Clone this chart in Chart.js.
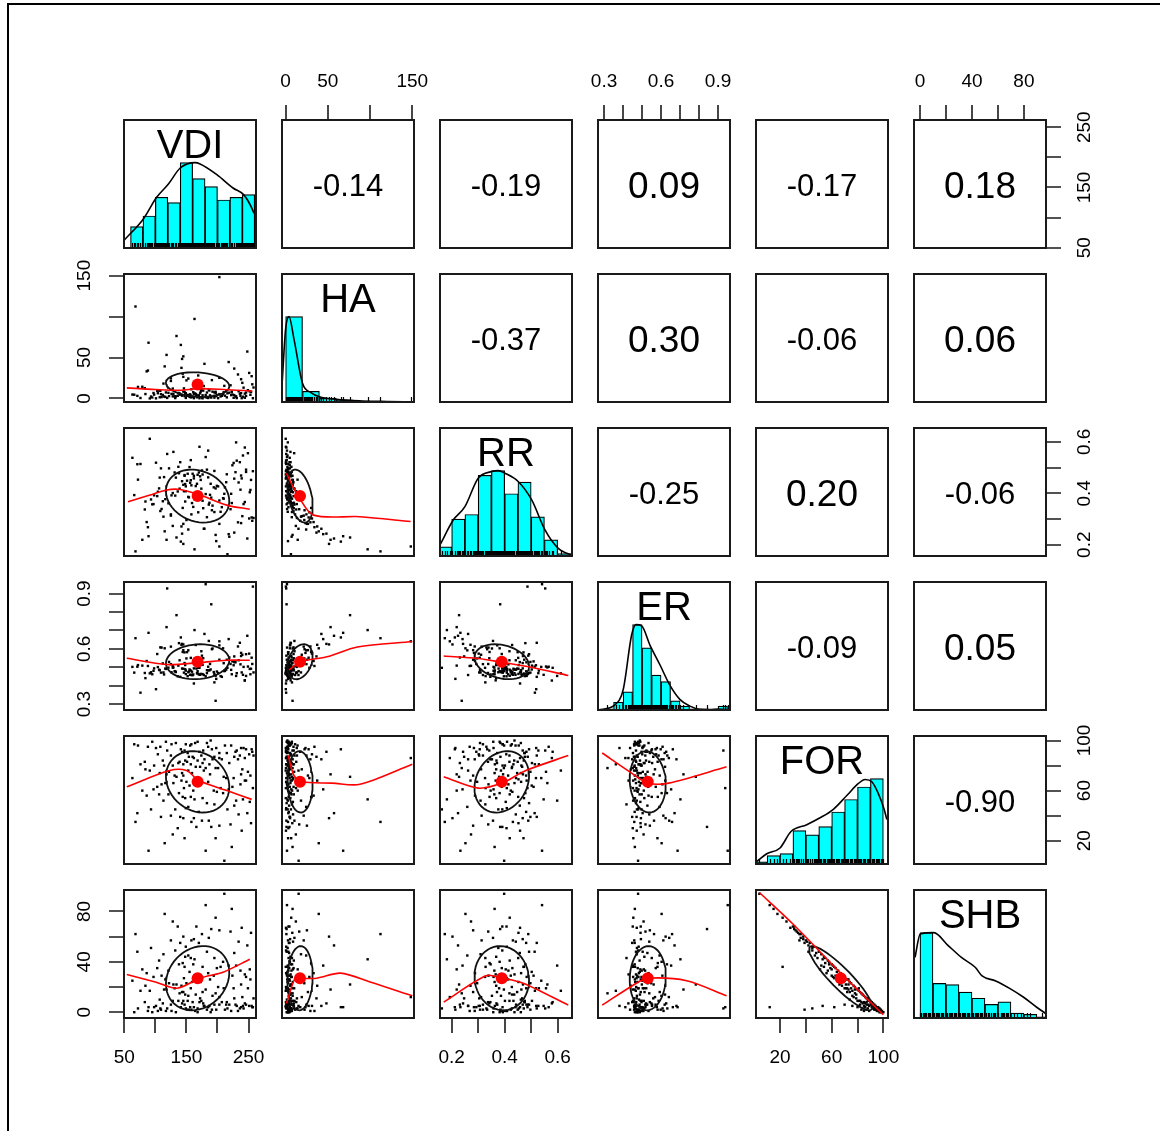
<!DOCTYPE html>
<html>
<head>
<meta charset="utf-8">
<script src="https://cdn.jsdelivr.net/npm/chart.js@4.4.1/dist/chart.umd.min.js"></script>
<style>
  html, body { margin: 0; padding: 0; background: #fff; }
  #stage { position: relative; width: 1160px; height: 1131px; overflow: hidden; }
  #frame { position: absolute; left: 7px; top: 3px; width: 1200px; height: 1200px;
           border-top: 2px solid #000; border-left: 2px solid #000; }
  canvas { position: absolute; }
</style>
</head>
<body>
<div id="stage"><div id="frame"></div></div>
<script>
const varNames = ['VDI', 'HA', 'RR', 'ER', 'FOR', 'SHB'];
const axisMin = [49.5, -4.3, 0.156, 0.268, 1.4, -4.6];
const axisMax = [262, 152, 0.654, 0.963, 103.6, 97];
const tickVals = [
  [50, 100, 150, 200, 250],
  [0, 50, 100, 150],
  [0.2, 0.3, 0.4, 0.5, 0.6],
  [0.3, 0.4, 0.5, 0.6, 0.7, 0.8, 0.9],
  [20, 40, 60, 80, 100],
  [0, 20, 40, 60, 80]
];
const tickLabeled = [
  [50, 150, 250],
  [0, 50, 150],
  [0.2, 0.4, 0.6],
  [0.3, 0.6, 0.9],
  [20, 60, 100],
  [0, 40, 80]
];

// Correlations (upper panels), row by row
const corrVDI = [-0.14, -0.19, 0.09, -0.17, 0.18];
const corrHA = [-0.37, 0.30, -0.06, 0.06];
const corrRR = [-0.25, 0.20, -0.06];
const corrER = [-0.09, 0.05];
const corrFOR = [-0.90];

// Means (red dots) and sd (ellipse size)
const means = [168, 17, 0.389, 0.53, 67, 27];
const sds = [51, 15, 0.103, 0.095, 24.5, 25.5];

// Histograms: first break, bin width, counts
const histStart = [60, 0, 0.15, 0.30, 0, 0];
const histStep = [20, 20, 0.05, 0.05, 10, 10];
const histVDI = [8, 12, 19, 17, 32, 26, 23, 18, 19, 20];
const histHA = [160, 20, 7, 4, 2, 1, 0, 1];
const histRR = [4, 16, 18, 35, 37, 27, 32, 17, 7, 1];
const histER = [1, 6, 14, 66, 48, 27, 22, 7, 3, 1, 1, 0, 3];
const histFOR = [1, 4, 5, 16, 14, 18, 25, 31, 37, 41];
const histSHB = [69, 28, 27, 21, 16, 11, 13, 4, 3, 1];

// Density curves (same units as the counts)
const densVDIx = [50, 81, 102, 121, 140, 164, 172, 199, 225, 242, 252, 259];
const densVDIy = [3, 11, 19, 24, 30, 32, 31.5, 27.5, 22.5, 20, 16.5, 13];
const densHAx = [-4, 0, 4, 10, 20, 30, 40, 60, 90, 120, 150];
const densHAy = [39, 137, 160, 117, 35, 17.6, 9.8, 4.9, 2, 1, 0.4];
const densRRx = [0.156, 0.206, 0.25, 0.3, 0.351, 0.376, 0.401, 0.451, 0.502, 0.552, 0.602, 0.634, 0.653];
const densRRy = [4.8, 15.6, 21.4, 33.7, 36.6, 37, 35.9, 32.3, 24.3, 11.3, 3.3, 1.2, 0.4];
const densERx = [0.268, 0.357, 0.401, 0.445, 0.468, 0.498, 0.542, 0.594, 0.647, 0.70, 0.752, 0.805, 0.857, 0.901, 0.963];
const densERy = [0, 4, 16, 58, 66, 65, 50, 35, 19, 8, 3, 0.5, 0.3, 0.8, 0];
const densFORx = [1.9, 9.7, 20, 28.5, 40.7, 51, 61.3, 71.7, 80.7, 85.9, 91.1, 96.2, 100.6, 102.7];
const densFORy = [1.2, 4.9, 7.7, 15.6, 18.9, 22.2, 26.3, 32.9, 38.7, 40.6, 39.5, 33.7, 26.3, 21.4];
const densSHBx = [-3.8, 0.2, 10.7, 21.3, 31.9, 42.5, 47.8, 58.3, 69, 79.5, 90.1, 98];
const densSHBy = [49, 68, 69, 59, 49, 41, 34, 30, 24, 17, 8.5, 2.8];

// Smoothed (loess) lines in the lower panels, [x, y]
const fitHA_VDI = [[54, 13], [100, 11], [140, 10], [168, 12], [210, 11], [256, 9]];
const fitRR_VDI = [[56, 0.367], [90, 0.392], [118, 0.413], [140, 0.415], [170, 0.395], [215, 0.354], [252, 0.338]];
const fitRR_HA = [[1, 0.478], [8, 0.43], [15, 0.389], [33, 0.315], [88, 0.309], [148, 0.29]];
const fitER_VDI = [[54, 0.549], [118, 0.515], [170, 0.525], [215, 0.538], [252, 0.538]];
const fitER_HA = [[4, 0.485], [18, 0.53], [49, 0.557], [85, 0.61], [150, 0.64]];
const fitER_RR = [[0.17, 0.561], [0.3, 0.548], [0.39, 0.527], [0.5, 0.5], [0.64, 0.455]];
const fitFOR_VDI = [[54, 63], [123, 76], [150, 76], [170, 68], [215, 60], [255, 53]];
const fitFOR_HA = [[3, 88], [10, 72], [19, 67], [55, 66], [88, 65], [150, 81]];
const fitFOR_RR = [[0.17, 71], [0.3, 62], [0.39, 66], [0.48, 76], [0.64, 88]];
const fitFOR_ER = [[0.29, 90], [0.445, 74], [0.53, 66], [0.64, 66], [0.945, 79]];
const fitSHB_VDI = [[54, 30], [100, 24], [135, 19], [172, 27], [210, 32], [252, 42]];
const fitSHB_HA = [[1, 7], [12, 28], [19, 27], [37, 27], [65, 31], [100, 24], [150, 13]];
const fitSHB_RR = [[0.17, 8], [0.33, 29], [0.39, 27], [0.47, 23], [0.64, 5.6]];
const fitSHB_ER = [[0.29, 5.6], [0.47, 23], [0.53, 27], [0.735, 25], [0.945, 13]];
const fitSHB_FOR = [[4, 95], [30, 70], [68, 30], [100, -2]];

// Observations (one entry per site)
const vdi = [
  212,147,95,238,171,126,255,189,108,152, 164,231,72,198,143,117,246,158,185,203,
  133,177,222,101,256,149,191,168,88,215, 242,156,119,183,229,141,66,174,207,137,
  195,112,251,145,162,83,236,128,179,154, 219,168,104,244,187,151,125,233,160,98,
  148,76,203,176,258,139,114,192,227,157, 181,249,131,165,91,210,143,240,118,172,
  226,153,197,107,145,253,122,169,84,214, 159,238,178,63,201,134,188,246,110,146,
  173,116,224,150,97,257,142,194,129,205, 237,161,185,103,218,155,244,79,167,138,
  144,199,230,121,176,86,252,157,113,209, 183,148,106,241,163,227,132,195,71,153,
  216,170,125,149,234,93,248,162,186,140, 158,221,109,190,254,136,175,203,145,68,
  166,239,128,197,147,115,223,181,89,211
];
const ha = [
  3.4,8.1,1.2,23.5,0.3,5.6,27.2,2.1,9.3,4.4, 6.2,0.5,14.1,2.8,48.3,7.4,3.1,11.2,1.6,5.3,
  2.5,9.6,4.1,0.2,17.3,6.5,22.4,3.7,34.1,1.4, 13.2,5.1,0.7,7.3,2.3,65.4,4.6,10.5,3.3,6.8,
  1.1,4.3,31.2,8.5,0.4,12.6,5.8,2.6,42.3,3.5, 7.1,2.2,6.4,0.9,9.8,3.2,24.6,29.3,1.8,4.7,
  5.5,0.6,148.2,3.9,13.4,6.1,2.4,8.3,36.5,1.3, 4.2,10.1,2.7,5.2,0.1,7.6,3.4,19.1,53.2,6.3,
  0.8,3.6,8.2,1.5,26.4,4.5,2.9,28.1,5.4,9.1, 2.3,6.6,15.2,4.8,0.4,76.3,3.8,7.2,1.7,12.3,
  8.4,1.9,4.9,22.1,6.7,0.3,37.4,3.1,5.7,2.5, 3.3,7.7,0.6,9.4,44.5,2.1,5.9,14.3,1.4,6.2,
  30.2,4.3,2.6,6.9,0.2,33.1,8.6,3.5,18.2,5.1, 1.2,5.6,9.7,2.2,97.1,4.1,0.5,7.5,3.2,24.3,
  6.3,3.8,21.4,0.7,8.8,2.4,57.3,5.3,10.4,4.6, 2.8,16.1,5.2,1.1,7.9,3.3,0.9,25.2,51.4,112.3,
  4.5,0.4,12.1,6.6,2.9,39.2,8.2,1.6,68.1,15.4
];
const rr = [
  0.423,0.468,0.357,0.284,0.581,0.392,0.306,0.437,0.331,0.476, 0.384,0.527,0.453,0.214,0.243,0.409,0.492,0.318,0.566,0.372,
  0.461,0.342,0.398,0.519,0.293,0.427,0.334,0.381,0.268,0.474, 0.358,0.441,0.553,0.307,0.482,0.212,0.393,0.418,0.346,0.503,
  0.487,0.369,0.302,0.433,0.458,0.337,0.521,0.401,0.262,0.384, 0.231,0.472,0.406,0.578,0.363,0.449,0.318,0.287,0.476,0.392,
  0.436,0.514,0.193,0.371,0.304,0.418,0.463,0.352,0.247,0.529, 0.397,0.556,0.481,0.428,0.612,0.379,0.447,0.311,0.219,0.466,
  0.518,0.386,0.238,0.461,0.281,0.413,0.497,0.326,0.368,0.443, 0.362,0.469,0.262,0.538,0.427,0.228,0.394,0.483,0.339,0.408,
  0.452,0.377,0.509,0.296,0.358,0.486,0.271,0.423,0.561,0.328, 0.414,0.347,0.462,0.389,0.241,0.502,0.366,0.219,0.437,0.478,
  0.343,0.429,0.598,0.361,0.473,0.288,0.404,0.451,0.309,0.381, 0.492,0.368,0.419,0.547,0.182,0.457,0.391,0.327,0.513,0.259,
  0.163,0.481,0.313,0.408,0.442,0.376,0.224,0.468,0.356,0.521, 0.431,0.338,0.497,0.383,0.452,0.407,0.489,0.281,0.203,0.174,
  0.391,0.458,0.273,0.419,0.471,0.252,0.362,0.541,0.233,0.398
];
const er = [
  0.481,0.523,0.462,0.578,0.497,0.473,0.552,0.488,0.608,0.452, 0.534,0.468,0.512,0.437,0.627,0.491,0.571,0.458,0.503,0.619,
  0.474,0.549,0.486,0.381,0.518,0.463,0.598,0.479,0.507,0.541, 0.502,0.459,0.928,0.484,0.527,0.662,0.471,0.587,0.448,0.509,
  0.463,0.521,0.574,0.492,0.412,0.469,0.633,0.498,0.681,0.477, 0.553,0.466,0.501,0.428,0.483,0.582,0.517,0.613,0.457,0.494,
  0.489,0.362,0.641,0.513,0.472,0.538,0.461,0.602,0.559,0.482, 0.451,0.504,0.478,0.621,0.467,0.522,0.493,0.568,0.718,0.459,
  0.511,0.473,0.318,0.484,0.593,0.462,0.529,0.497,0.441,0.487, 0.476,0.561,0.458,0.502,0.469,0.783,0.518,0.453,0.607,0.471,
  0.464,0.493,0.532,0.548,0.481,0.938,0.622,0.474,0.499,0.452, 0.516,0.461,0.483,0.572,0.653,0.488,0.429,0.509,0.468,0.631,
  0.583,0.477,0.453,0.498,0.463,0.534,0.491,0.551,0.472,0.603, 0.468,0.512,0.487,0.459,0.702,0.528,0.479,0.418,0.503,0.592,
  0.497,0.461,0.612,0.482,0.538,0.473,0.671,0.494,0.643,0.448, 0.459,0.518,0.471,0.842,0.492,0.451,0.563,0.541,0.624,0.658,
  0.493,0.472,0.508,0.454,0.581,0.603,0.462,0.951,0.687,0.479
];
const forest = [
  96,92,99,94,91,97,93,100,95,90, 98,92,96,94,91,99,93,97,95,90,
  98,92,96,94,91,97,93,99,95,90, 94,96,92,98,91,93,97,
  88,85,82,87,84,89,81,86,83,88, 80,85,87,82,84,89,86,81,83,88, 85,87,80,
  84,81,86,82,88,83,80,85,87,81,
  78,75,72,79,76,71,74,77,73,79,70,76,78,74,72,
  72,75,70,77,70,74,73,76,70,78,71,73,
  68,65,62,69,66,63,67,61,62,68,60,66,
  62,65,60,67,63,61,64,68,60,66,
  58,55,59,52,57,54,56,51, 55,52,58,50,54,57,53,53,
  48,45,49,42,47,45, 43,40,46,41,45,42,
  38,36,39,35, 33,39,31,34,30,36,32,38,35,31,
  28,25,22,22, 18,15,12,12, 4
];
const shb = [
  2,6,0,4,8,1,5,0,3,9, 1,5,3,2,7,1,6,2,4,6,
  0,7,1,5,4,3,2,0,1,8, 3,4,3,2,6,4,0,
  9,8,9,6,7,5,9,4,8,3, 9,5,2,6,3,1,7,5,2,6, 1,8,4,
  14,17,12,16,11,15,18,13,11,19,
  18,19,19,14,17,19,16,12,18,11,19,13,15,10,16,
  26,23,28,21,6,24,22,5,25,20,22,26,
  28,29,27,24,26,29,23,28,4,21,29,22,
  36,33,38,31,35,37,32,30,34,30,
  38,39,35,37,33,36,31,34, 43,46,40,48,44,41,5,42,
  47,49,43,48,45,3, 55,57,52,56,51,53,
  58,59,55,57, 64,2,66,63,68,62,65,60,62,68,
  67,72,75,36, 78,82,85,4, 94
];

// ---- layout ----
const colX = [124, 282, 440, 598, 756, 914];
const rowY = [120, 274, 428, 582, 736, 890];
const PW = 132, PH = 128, M = 70;
const FONT = '"Liberation Sans", Arial, Helvetica, sans-serif';

const obs = [vdi, ha, rr, er, forest, shb];
const hists = [histVDI, histHA, histRR, histER, histFOR, histSHB];
const densX = [densVDIx, densHAx, densRRx, densERx, densFORx, densSHBx];
const densY = [densVDIy, densHAy, densRRy, densERy, densFORy, densSHBy];
const corrRows = [corrVDI, corrHA, corrRR, corrER, corrFOR];
const fits = {
  '1,0': fitHA_VDI, '2,0': fitRR_VDI, '2,1': fitRR_HA,
  '3,0': fitER_VDI, '3,1': fitER_HA, '3,2': fitER_RR,
  '4,0': fitFOR_VDI, '4,1': fitFOR_HA, '4,2': fitFOR_RR, '4,3': fitFOR_ER,
  '5,0': fitSHB_VDI, '5,1': fitSHB_HA, '5,2': fitSHB_RR, '5,3': fitSHB_ER, '5,4': fitSHB_FOR
};

function corrOf(a, b) {
  const i = Math.min(a, b), j = Math.max(a, b);
  return corrRows[i][j - i - 1];
}

// correlation ellipse (1 sd), as in psych::draw.ellipse
function ellipsePoints(xv, yv) {
  const r = corrOf(xv, yv);
  const th = r !== 0 ? Math.sign(r) / Math.SQRT2 : 1 / Math.SQRT2;
  const a = Math.sqrt(1 + r), b = Math.sqrt(1 - r);
  const pts = [];
  for (let k = 0; k <= 51; k++) {
    const ang = k * 2 * Math.PI / 51;
    const c = Math.cos(ang), s = Math.sin(ang);
    const ex = c * a * th - s * b * th;
    const ey = c * a * th + s * b * th;
    pts.push({ x: ex * sds[xv] + means[xv], y: ey * sds[yv] + means[yv] });
  }
  return pts;
}

function axesFor(i, j) {
  const list = [];
  if (i === 0 && j % 2 === 1) list.push({ side: 'top', v: j });
  if (i === 5 && j % 2 === 0) list.push({ side: 'bottom', v: j });
  if (j === 0 && i % 2 === 1) list.push({ side: 'left', v: i });
  if (j === 5 && i % 2 === 0) list.push({ side: 'right', v: i });
  return list;
}

// draws box, labels, rug and outer axes for a panel
function decor(spec) {
  return {
    id: 'decor',
    afterDatasetsDraw(chart) {
      const ctx = chart.ctx, a = chart.chartArea;
      const xs = chart.scales.x, ys = chart.scales.y;
      ctx.save();
      if (spec.rug) {
        ctx.strokeStyle = '#000';
        ctx.lineWidth = 1.2;
        ctx.beginPath();
        spec.rug.forEach(v => {
          const px = Math.round(xs.getPixelForValue(v)) + 0.5;
          ctx.moveTo(px, a.bottom);
          ctx.lineTo(px, a.bottom - 5);
        });
        ctx.stroke();
      }
      ctx.fillStyle = '#000';
      if (spec.label) {
        ctx.font = '40px ' + FONT;
        ctx.textAlign = 'center';
        ctx.textBaseline = 'alphabetic';
        ctx.fillText(spec.label, (a.left + a.right) / 2, a.top + 37.5);
      }
      if (spec.text) {
        const size = spec.text.charAt(0) === '-' ? 31 : 37;
        ctx.font = size + 'px ' + FONT;
        ctx.textAlign = 'center';
        ctx.textBaseline = 'alphabetic';
        ctx.fillText(spec.text, (a.left + a.right) / 2, (a.top + a.bottom) / 2 + 0.36 * size + 1);
      }
      ctx.strokeStyle = '#1a1a1a';
      ctx.lineWidth = 2;
      ctx.strokeRect(a.left, a.top, a.right - a.left, a.bottom - a.top);

      ctx.font = '19px ' + FONT;
      ctx.textAlign = 'center';
      ctx.textBaseline = 'middle';
      ctx.lineWidth = 1.6;
      spec.axes.forEach(ax => {
        const horiz = ax.side === 'top' || ax.side === 'bottom';
        const sc = horiz ? xs : ys;
        ctx.beginPath();
        tickVals[ax.v].forEach(t => {
          const p = Math.round(sc.getPixelForValue(t));
          if (ax.side === 'top') { ctx.moveTo(p, a.top); ctx.lineTo(p, a.top - 15); }
          if (ax.side === 'bottom') { ctx.moveTo(p, a.bottom); ctx.lineTo(p, a.bottom + 15); }
          if (ax.side === 'left') { ctx.moveTo(a.left, p); ctx.lineTo(a.left - 15, p); }
          if (ax.side === 'right') { ctx.moveTo(a.right, p); ctx.lineTo(a.right + 15, p); }
        });
        ctx.stroke();
        tickLabeled[ax.v].forEach(t => {
          const p = sc.getPixelForValue(t);
          const txt = String(t);
          if (ax.side === 'top') ctx.fillText(txt, p, a.top - 38);
          else if (ax.side === 'bottom') ctx.fillText(txt, p, a.bottom + 40);
          else {
            const x = ax.side === 'left' ? a.left - 39 : a.right + 39;
            ctx.save();
            ctx.translate(x, p);
            ctx.rotate(-Math.PI / 2);
            ctx.fillText(txt, 0, 0);
            ctx.restore();
          }
        });
      });
      ctx.restore();
    }
  };
}

function baseOptions(xr, yr) {
  return {
    responsive: false,
    animation: false,
    events: [],
    layout: { padding: M },
    plugins: { legend: { display: false }, tooltip: { enabled: false } },
    scales: {
      x: { type: 'linear', display: false, offset: false, min: xr[0], max: xr[1] },
      y: { type: 'linear', display: false, offset: false, min: yr[0], max: yr[1] }
    }
  };
}

const stage = document.getElementById('stage');

for (let i = 0; i < 6; i++) {
  for (let j = 0; j < 6; j++) {
    const cv = document.createElement('canvas');
    cv.width = PW + 2 * M;
    cv.height = PH + 2 * M;
    cv.style.left = (colX[j] - M) + 'px';
    cv.style.top = (rowY[i] - M) + 'px';
    stage.appendChild(cv);

    const spec = { axes: axesFor(i, j) };
    let datasets = [];
    let xr = [axisMin[j], axisMax[j]];
    let yr = [axisMin[i], axisMax[i]];

    if (i === j) {
      const h = hists[i];
      const top = Math.max(...h) * 1.5;
      yr = [0, top];
      spec.label = varNames[i];
      spec.rug = obs[i];
      const barPx = histStep[i] * PW / (axisMax[i] - axisMin[i]);
      datasets = [
        {
          type: 'line',
          data: densX[i].map((x, k) => ({ x: x, y: densY[i][k] })),
          borderColor: '#000',
          borderWidth: 1.6,
          pointRadius: 0,
          fill: false,
          cubicInterpolationMode: 'monotone'
        },
        {
          type: 'bar',
          data: h.map((c, k) => ({ x: histStart[i] + histStep[i] * (k + 0.5), y: c })),
          backgroundColor: '#00FFFF',
          borderColor: '#000',
          borderWidth: 1.2,
          barThickness: barPx
        }
      ];
    } else if (i < j) {
      spec.text = corrOf(i, j).toFixed(2);
    } else {
      datasets = [
        {
          type: 'scatter',
          data: [{ x: means[j], y: means[i] }],
          backgroundColor: '#FF0000',
          borderWidth: 0,
          pointRadius: 6
        },
        {
          type: 'line',
          data: fits[i + ',' + j].map(p => ({ x: p[0], y: p[1] })),
          borderColor: '#FF0000',
          borderWidth: 1.6,
          pointRadius: 0,
          fill: false,
          tension: 0.3
        },
        {
          type: 'line',
          data: ellipsePoints(j, i),
          borderColor: '#111',
          borderWidth: 1.8,
          pointRadius: 0,
          fill: false,
          tension: 0
        },
        {
          type: 'scatter',
          data: obs[j].map((v, k) => ({ x: v, y: obs[i][k] })),
          backgroundColor: '#000',
          borderWidth: 0,
          pointStyle: 'rect',
          pointRadius: 1.7
        }
      ];
    }

    new Chart(cv.getContext('2d'), {
      type: 'scatter',
      data: { datasets: datasets },
      options: baseOptions(xr, yr),
      plugins: [decor(spec)]
    });
  }
}
</script>
</body>
</html>
